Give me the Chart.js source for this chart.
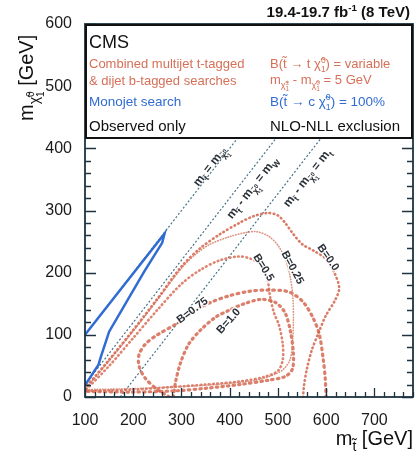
<!DOCTYPE html>
<html>
<head>
<meta charset="utf-8">
<script src="https://cdn.jsdelivr.net/npm/chart.js@4/dist/chart.umd.min.js"></script>
<style>
  html, body { margin: 0; padding: 0; background: #fff; }
  #c { display: block; }
</style>
</head>
<body>
<canvas id="c" width="416" height="459"></canvas>
<script>
// tick labels
const xTickVals = [100, 200, 300, 400, 500, 600, 700];
const yTickVals = [0, 100, 200, 300, 400, 500, 600];

// monojet observed exclusion (m_stop, m_lsp)
const monojet = [[100, 100], [265, 263], [260, 248], [223, 202], [150, 105], [133, 65], [128, 52], [100, 19]];

// combined multijet + dijet contours, one per branching fraction
const contourB00 = [[100, 14], [150, 60], [200, 108], [250, 158], [300, 210], [340, 240], [380, 262], [420, 280],
  [450, 291], [480, 296], [500, 292], [515, 280], [530, 264], [550, 246], [575, 235], [600, 222], [617, 200],
  [627, 175], [618, 155], [600, 132], [584, 103], [570, 75], [560, 45], [554, 18], [552, 0]];
const contourB025 = [[100, 12], [150, 58], [200, 106], [250, 156], [300, 207], [330, 230], [360, 246], [400, 258],
  [430, 264], [455, 266], [480, 259], [500, 244], [515, 222], [525, 195], [531, 160], [532, 120], [530, 85],
  [525, 60], [512, 45], [495, 37], [460, 28], [400, 22], [330, 18], [250, 15], [180, 13], [100, 12]];
const contourB05 = [[100, 10], [150, 50], [200, 95], [250, 140], [300, 182], [340, 205], [380, 220], [420, 226],
  [445, 222], [465, 212], [478, 190], [484, 160], [492, 135], [502, 116], [510, 85], [510, 60], [500, 42],
  [470, 32], [420, 25], [350, 20], [280, 16], [200, 12], [100, 10]];
const contourB075 = [[275, 0], [250, 12], [225, 30], [212, 50], [212, 68], [225, 85], [250, 100], [290, 118],
  [320, 135], [360, 152], [400, 163], [440, 170], [480, 172], [523, 169], [552, 153], [573, 127], [586, 100],
  [594, 60], [598, 30], [600, 0]];
const contourB10 = [[283, 0], [288, 25], [298, 55], [315, 85], [340, 108], [370, 128], [400, 140], [430, 150],
  [465, 157], [495, 152], [515, 135], [526, 105], [532, 70], [530, 45], [515, 33], [480, 27], [420, 20],
  [350, 14], [290, 10], [200, 8], [100, 9]];

// kinematic lines m_stop - m_lsp = 0, m_W, m_top
const kinEqual = [[100, 100], [600, 600]];
const kinW = [[100, 20], [680, 600]];
const kinTop = [[173, 0], [773, 600]];

const FONT = '"Liberation Sans", Arial, Helvetica, sans-serif';
const SALMON = 'rgb(214,112,88)';
const BLUE = 'rgb(48,108,210)';
const AXIS = '#1d3440';

const pts = a => a.map(([x, y]) => ({ x, y }));

// text with sub/superscripts: part = string or [text, scale, dy, stack]
function rich(ctx, parts, x, y, size, weight, draw) {
  let cx = x, hold = 0;
  for (const p of parts) {
    const [t, sc = 1, dy = 0, stack = false] = typeof p === 'string' ? [p] : p;
    ctx.font = weight + ' ' + (size * sc) + 'px ' + FONT;
    const w = ctx.measureText(t).width;
    if (draw) ctx.fillText(t, cx, y + dy * size);
    if (stack) hold = Math.max(hold, w);
    else { cx += Math.max(w, hold); hold = 0; }
  }
  return cx - x;
}

const T = 't\u0303';
const CHI = '\u03C7\u0303';
const mStop = ['m', [T, 0.7, 0.3]];
const mLsp = ['m', [CHI, 0.7, 0.3], ['0', 0.5, 0.05, true], ['1', 0.5, 0.55]];

const lineLabels = [
  { parts: [...mStop, ' = ', ...mLsp], at: [358, 371] },
  { parts: [...mStop, ' - ', ...mLsp, ' = m', ['W', 0.7, 0.3]], at: [446, 337] },
  { parts: [...mStop, ' - ', ...mLsp, ' = m', ['t', 0.7, 0.3]], at: [560, 353] }
];
const contourLabels = [
  { t: 'B=0.0', at: [604, 224], rot: 55 },
  { t: 'B=0.25', at: [530, 208], rot: 62 },
  { t: 'B=0.5', at: [470, 208], rot: 58 },
  { t: 'B=0.75', at: [323, 139], rot: -37 },
  { t: 'B=1.0', at: [398, 122], rot: -48 }
];

const decor = {
  id: 'decor',
  afterDatasetsDraw(chart) {
    const ctx = chart.ctx, a = chart.chartArea;
    const xs = chart.scales.x, ys = chart.scales.y;
    ctx.save();
    // inward ticks
    ctx.strokeStyle = AXIS;
    ctx.lineWidth = 1.3;
    ctx.beginPath();
    for (let v = 100; v <= 780; v += 20) {
      const px = Math.round(xs.getPixelForValue(v)) + 0.5;
      const len = v % 100 === 0 ? 9 : 5;
      ctx.moveTo(px, a.bottom); ctx.lineTo(px, a.bottom - len);
    }
    for (let v = 0; v <= 600; v += 20) {
      const py = Math.round(ys.getPixelForValue(v)) + 0.5;
      const len = v % 100 === 0 ? 11 : 6;
      ctx.moveTo(a.left, py); ctx.lineTo(a.left + len, py);
      ctx.moveTo(a.right, py); ctx.lineTo(a.right - len, py);
    }
    ctx.stroke();
    ctx.lineWidth = 1.8;
    ctx.strokeRect(a.left, a.top, a.right - a.left, a.bottom - a.top);

    // contour labels
    ctx.textAlign = 'center';
    ctx.textBaseline = 'middle';
    for (const l of contourLabels) {
      ctx.save();
      ctx.translate(xs.getPixelForValue(l.at[0]), ys.getPixelForValue(l.at[1]));
      ctx.rotate(l.rot * Math.PI / 180);
      ctx.font = 'bold 11px ' + FONT;
      ctx.lineWidth = 3;
      ctx.strokeStyle = 'rgba(255,255,255,0.85)';
      ctx.strokeText(l.t, 0, 0);
      ctx.fillStyle = '#2a3038';
      ctx.fillText(l.t, 0, 0);
      ctx.restore();
    }
    // kinematic line labels
    ctx.textAlign = 'left';
    ctx.textBaseline = 'alphabetic';
    for (const l of lineLabels) {
      ctx.save();
      ctx.translate(xs.getPixelForValue(l.at[0]), ys.getPixelForValue(l.at[1]));
      ctx.rotate(-52 * Math.PI / 180);
      const w = rich(ctx, l.parts, 0, 0, 12, 'bold', false);
      ctx.fillStyle = '#2a3038';
      rich(ctx, l.parts, -w / 2, 4, 12, 'bold', true);
      ctx.restore();
    }

    // legend box
    ctx.fillStyle = '#fff';
    ctx.fillRect(a.left, a.top, a.right - a.left, 114);
    ctx.strokeStyle = '#111';
    ctx.lineWidth = 2;
    ctx.strokeRect(a.left + 1, a.top + 1, a.right - a.left - 2, 113);

    const L = 89, R = 270;
    ctx.fillStyle = '#111';
    ctx.font = '18px ' + FONT;
    ctx.fillText('CMS', L, 48);
    ctx.fillStyle = SALMON;
    ctx.font = '13px ' + FONT;
    ctx.fillText('Combined multijet t-tagged', L, 68);
    ctx.fillText('& dijet b-tagged searches', L, 85);
    rich(ctx, ['B(', T, ' \u2192 t ', CHI, ['0', 0.65, -0.42, true], ['1', 0.65, 0.28], ') = variable'], R, 68, 13, '', true);
    rich(ctx, ['m', [CHI, 0.7, 0.3], ['\u00B1', 0.5, 0.05, true], ['1', 0.5, 0.55], ' - ', ...mLsp, ' = 5 GeV'], R, 84, 13, '', true);
    ctx.fillStyle = BLUE;
    ctx.font = '13.5px ' + FONT;
    ctx.fillText('Monojet search', L, 106);
    rich(ctx, ['B(', T, ' \u2192 c ', CHI, ['0', 0.65, -0.42, true], ['1', 0.65, 0.28], ') = 100%'], R, 106, 13.5, '', true);
    ctx.fillStyle = '#111';
    ctx.font = '15px ' + FONT;
    ctx.fillText('Observed only', L, 131);
    ctx.fillText('NLO-NLL exclusion', R, 131);

    // luminosity label
    ctx.fillStyle = '#111';
    const lumi = ['19.4-19.7 fb', ['-1', 0.65, -0.42], ' (8 TeV)'];
    const lw = rich(ctx, lumi, 0, 0, 15, 'bold', false);
    rich(ctx, lumi, 410 - lw, 17, 15, 'bold', true);

    // axis titles
    const xt = ['m', [T, 0.7, 0.3], ' [GeV]'];
    const xw = rich(ctx, xt, 0, 0, 20, '', false);
    rich(ctx, xt, 413 - xw, 445, 20, '', true);
    ctx.save();
    ctx.translate(33, 121);
    ctx.rotate(-Math.PI / 2);
    rich(ctx, [...mLsp, ' [GeV]'], 0, 0, 20, '', true);
    ctx.restore();
    ctx.restore();
  }
};

const contourStyle = (data, dash, width, color, offset) => ({
  data: pts(data), showLine: true, pointRadius: 0, borderColor: color, borderWidth: width,
  borderDash: dash, borderDashOffset: offset || 0, borderCapStyle: 'round', tension: 0.3, fill: false
});
const kinStyle = data => ({
  data: pts(data), showLine: true, pointRadius: 0, borderColor: 'rgb(70,115,135)', borderWidth: 1.2,
  borderDash: [2, 2], tension: 0, fill: false
});

new Chart(document.getElementById('c'), {
  type: 'scatter',
  data: {
    datasets: [
      { data: pts(monojet), showLine: true, pointRadius: 0, borderColor: BLUE, borderWidth: 2.5, tension: 0, fill: false },
      contourStyle(contourB00, [0.6, 3.6], 2.6, 'rgba(212,100,76,0.85)'),
      contourStyle(contourB025, [0.5, 2.2], 1.6, 'rgba(214,128,108,0.85)', 1.5),
      contourStyle(contourB05, [0.6, 3.6], 2.6, 'rgba(212,100,76,0.8)', 2),
      contourStyle(contourB075, [1.6, 4.4], 3.2, 'rgba(210,95,70,0.8)'),
      contourStyle(contourB10, [1.4, 4.2], 3.2, 'rgba(210,95,70,0.8)'),
      kinStyle(kinEqual),
      kinStyle(kinW),
      kinStyle(kinTop)
    ]
  },
  options: {
    responsive: false,
    animation: false,
    devicePixelRatio: 1,
    layout: { padding: { top: 24, right: 3, left: 0, bottom: 0 } },
    plugins: { legend: { display: false }, tooltip: { enabled: false } },
    scales: {
      x: {
        type: 'linear', min: 100, max: 780,
        grid: { display: false }, border: { display: false },
        afterBuildTicks: s => { s.ticks = xTickVals.map(v => ({ value: v })); },
        afterFit: s => { s.height = 62; },
        ticks: { font: { family: FONT, size: 16 }, color: '#1a1a1a', padding: 6, maxRotation: 0, autoSkip: false }
      },
      y: {
        type: 'linear', min: 0, max: 600,
        grid: { display: false }, border: { display: false },
        afterBuildTicks: s => { s.ticks = yTickVals.map(v => ({ value: v })); },
        afterFit: s => { s.width = 85; },
        ticks: { font: { family: FONT, size: 16 }, color: '#1a1a1a', padding: 5, autoSkip: false }
      }
    }
  },
  plugins: [decor]
});
</script>
</body>
</html>
